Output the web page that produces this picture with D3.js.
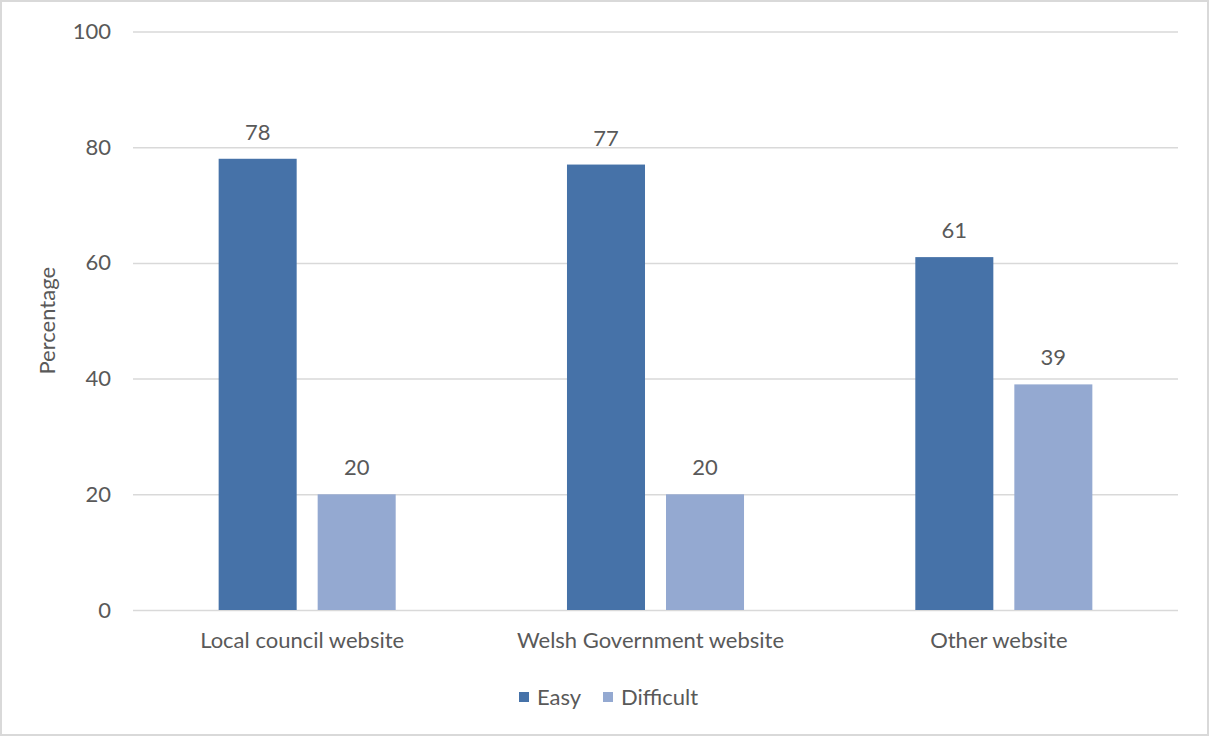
<!DOCTYPE html>
<html>
<head>
<meta charset="utf-8">
<script src="https://cdn.jsdelivr.net/npm/d3@7"></script>
<style>
  html, body { margin: 0; padding: 0; background: #fff; }
  svg { display: block; }
  text { font-family: Lato, "Open Sans", "Noto Sans", sans-serif; fill: #595959; }
</style>
</head>
<body>
<script>
// Website ease of use, by website type
const categories = ["Local council website", "Welsh Government website", "Other website"];
const seriesNames = ["Easy", "Difficult"];
const easyValues = [78, 77, 61];
const difficultValues = [20, 20, 39];
const yTicks = [0, 20, 40, 60, 80, 100];
const colors = ["#4672A8", "#94A9D1"];

const W = 1209, H = 736;
const plot = { left: 133, right: 1178, top: 31.5, bottom: 610 };
const FONT = 22;

const svg = d3.select("body").append("svg").attr("width", W).attr("height", H);

// outer frame
svg.append("rect").attr("x", 1).attr("y", 1).attr("width", W - 2).attr("height", H - 2)
  .attr("fill", "#fff").attr("stroke", "#d9d9d9").attr("stroke-width", 2);

const x0 = d3.scaleBand().domain(categories).range([plot.left, plot.right]).paddingInner(0).paddingOuter(0);
const x1 = d3.scaleBand().domain(seriesNames).range([0, x0.bandwidth()]).paddingInner(0.212).paddingOuter(0.865);
const y = d3.scaleLinear().domain([0, 100]).range([plot.bottom, plot.top]);

// gridlines + y tick labels
const yAxis = d3.axisLeft(y).tickValues(yTicks).tickSize(-(plot.right - plot.left)).tickPadding(22);
const gy = svg.append("g").attr("transform", `translate(${plot.left},0)`).call(yAxis);
gy.select(".domain").remove();
gy.selectAll(".tick line").attr("stroke", "#d9d9d9").attr("stroke-width", 1.5);
gy.selectAll(".tick text").attr("font-size", FONT).style("fill", "#595959")
  .style("font-family", "Lato, 'Open Sans', sans-serif");

// category labels
const xAxis = d3.axisBottom(x0).tickSize(0).tickPadding(22);
const gx = svg.append("g").attr("transform", `translate(0,${plot.bottom})`).call(xAxis);
gx.select(".domain").remove();
gx.selectAll(".tick text").attr("font-size", FONT).style("fill", "#595959")
  .style("font-family", "Lato, 'Open Sans', sans-serif")
  .attr("dx", -5);

// bars
const rows = categories.map((c, i) => ({ cat: c, vals: [easyValues[i], difficultValues[i]] }));
const groups = svg.selectAll("g.grp").data(rows).enter().append("g")
  .attr("class", "grp").attr("transform", d => `translate(${x0(d.cat)},0)`);

groups.selectAll("rect").data(d => d.vals.map((v, j) => ({ key: seriesNames[j], v, j })))
  .enter().append("rect")
  .attr("x", d => x1(d.key))
  .attr("width", x1.bandwidth())
  .attr("y", d => y(d.v))
  .attr("height", d => y(0) - y(d.v))
  .attr("fill", d => colors[d.j]);

groups.selectAll("text.val").data(d => d.vals.map((v, j) => ({ key: seriesNames[j], v, j })))
  .enter().append("text").attr("class", "val")
  .attr("x", d => x1(d.key) + x1.bandwidth() / 2)
  .attr("y", d => y(d.v) - 19)
  .attr("text-anchor", "middle")
  .attr("font-size", FONT)
  .text(d => d.v);

// y axis title
svg.append("text")
  .attr("transform", `translate(55,${(plot.top + plot.bottom) / 2}) rotate(-90)`)
  .attr("text-anchor", "middle")
  .attr("font-size", 22)
  .text("Percentage");

// legend
const legend = svg.append("g").attr("transform", "translate(519,697)");
const legendItems = [{ name: "Easy", x: 0 }, { name: "Difficult", x: 84 }];
legendItems.forEach((it, i) => {
  legend.append("rect").attr("x", it.x).attr("y", -5).attr("width", 10).attr("height", 10).attr("fill", colors[i]);
  legend.append("text").attr("x", it.x + 18).attr("y", 0).attr("dy", "0.35em")
    .attr("font-size", FONT).text(it.name);
});
</script>
</body>
</html>
